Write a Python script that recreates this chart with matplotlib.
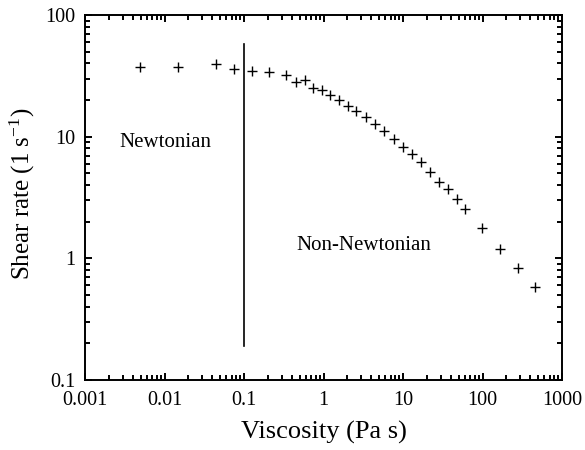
import matplotlib
matplotlib.use("Agg")
import matplotlib.pyplot as plt
from matplotlib.ticker import FixedLocator, NullFormatter, LogLocator

plt.rcParams['font.family'] = ['Liberation Serif', 'DejaVu Serif']
plt.rcParams['mathtext.fontset'] = 'custom'
plt.rcParams['mathtext.rm'] = 'Liberation Serif'
plt.rcParams['mathtext.it'] = 'Liberation Serif:italic'

viscosity = [0.0049, 0.0147, 0.0441, 0.0748, 0.126, 0.208, 0.337, 0.445, 0.577,
             0.738, 0.944, 1.21, 1.55, 2.02, 2.60, 3.38, 4.40, 5.77, 7.66, 9.86,
             12.9, 16.7, 21.7, 28.1, 36.5, 47.3, 60.2, 99.4, 164, 277, 461]
shear_rate = [37.6, 37.2, 39.6, 36.0, 34.6, 33.8, 32.4, 28.4, 29.2,
              25.3, 24.4, 21.9, 20.2, 17.9, 16.3, 14.5, 12.8, 11.1, 9.48, 8.27,
              7.16, 6.15, 5.15, 4.27, 3.69, 3.06, 2.54, 1.77, 1.19, 0.833, 0.585]

boundary_x = [0.1, 0.1]
boundary_y = [0.19, 57.8]

x_ticks = [0.001, 0.01, 0.1, 1, 10, 100, 1000]
x_ticklabels = ['0.001', '0.01', '0.1', '1', '10', '100', '1000']
y_ticks = [0.1, 1, 10, 100]
y_ticklabels = ['0.1', '1', '10', '100']

fig = plt.figure(figsize=(5.85, 4.5), dpi=100)
ax = fig.add_axes([85/585, 1-380/450, (562-85)/585, (380-15)/450])

ax.plot(viscosity, shear_rate, linestyle='none', marker='+', markersize=7,
        markeredgewidth=1.0, color='black')
ax.plot(boundary_x, boundary_y, color='black', linewidth=1.2)

ax.set_xscale('log')
ax.set_yscale('log')
ax.set_xlim(0.001, 1000)
ax.set_ylim(0.1, 100)

ax.xaxis.set_major_locator(FixedLocator(x_ticks))
ax.set_xticklabels(x_ticklabels)
ax.yaxis.set_major_locator(FixedLocator(y_ticks))
ax.set_yticklabels(y_ticklabels)
ax.xaxis.set_minor_locator(LogLocator(base=10, subs=range(2, 10), numticks=20))
ax.yaxis.set_minor_locator(LogLocator(base=10, subs=range(2, 10), numticks=20))
ax.xaxis.set_minor_formatter(NullFormatter())
ax.yaxis.set_minor_formatter(NullFormatter())

ax.tick_params(which='both', direction='in', top=True, right=True, width=1.4,
               labelsize=14.5, colors='black')
ax.tick_params(which='major', length=5)
ax.tick_params(which='minor', length=3.5)
ax.tick_params(axis='x', which='major', pad=8)
ax.tick_params(axis='y', which='major', pad=7)

for s in ax.spines.values():
    s.set_linewidth(1.4)

ax.set_xlabel('Viscosity (Pa s)', fontsize=19, labelpad=8)
ax.set_ylabel('Shear rate (1 s$^{\u2212 1}$)', fontsize=18)
ax.yaxis.set_label_coords(-0.10, 0.51)

ax.text(0.00268, 8.27, 'Newtonian', fontsize=15, ha='left', va='baseline')
ax.text(0.46, 1.17, 'Non-Newtonian', fontsize=15, ha='left', va='baseline')

fig.savefig('out.png', dpi=100)
